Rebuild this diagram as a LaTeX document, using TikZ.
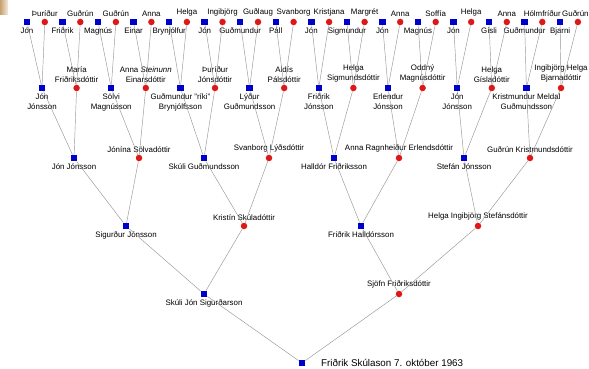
\documentclass[tikz,border=0pt]{standalone}
\usepackage{fontspec}
\setmainfont{Liberation Sans}
\definecolor{sqblue}{RGB}{0,0,204}
\definecolor{dotred}{RGB}{222,24,24}
\definecolor{edgegray}{RGB}{150,150,150}
\definecolor{cornertan}{RGB}{200,160,110}
\begin{document}
\begin{tikzpicture}[x=1pt,y=-1pt,
  man/.style={rectangle, fill=sqblue, minimum size=6.5pt, inner sep=0pt},
  woman/.style={circle, fill=dotred, minimum size=6.5pt, inner sep=0pt},
  link/.style={draw=edgegray, line width=0.45pt},
  every label/.style={font=\fontsize{7.9}{9.8}\selectfont, align=center, inner sep=0.5pt},
  label distance=1.5pt]
\useasboundingbox (0,0) rectangle (589,369);
\shade[left color=cornertan, right color=cornertan!20] (0,0) rectangle (8,15);
% great-great-grandparents
  \node[man, label=below:Jón] (a1) at (27,22) {};
  \node[woman, label=above:Þuríður] (a2) at (44.8,22) {};
  \node[man, label=below:Friðrik] (a3) at (62.5,22) {};
  \node[woman, label=above:Guðrún] (a4) at (80.3,22) {};
  \node[man, label=below:Magnús] (a5) at (98.1,22) {};
  \node[woman, label=above:Guðrún] (a6) at (115.9,22) {};
  \node[man, label=below:Einar] (a7) at (133.6,22) {};
  \node[woman, label=above:Anna] (a8) at (151.4,22) {};
  \node[man, label=below:Brynjólfur] (a9) at (169.2,22) {};
  \node[woman, label=above:Helga] (a10) at (186.9,22) {};
  \node[man, label=below:Jón] (a11) at (204.7,22) {};
  \node[woman, label=above:Ingibjörg] (a12) at (222.5,22) {};
  \node[man, label=below:Guðmundur] (a13) at (240.2,22) {};
  \node[woman, label=above:Guðlaug] (a14) at (258,22) {};
  \node[man, label=below:Páll] (a15) at (275.8,22) {};
  \node[woman, label=above:Svanborg] (a16) at (293.6,22) {};
  \node[man, label=below:Jón] (a17) at (311.3,22) {};
  \node[woman, label=above:Kristjana] (a18) at (329.1,22) {};
  \node[man, label=below:Sigmundur] (a19) at (346.9,22) {};
  \node[woman, label=above:Margrét] (a20) at (364.6,22) {};
  \node[man, label=below:Jón] (a21) at (382.4,22) {};
  \node[woman, label=above:Anna] (a22) at (400.2,22) {};
  \node[man, label=below:Magnús] (a23) at (417.9,22) {};
  \node[woman, label=above:Soffía] (a24) at (435.7,22) {};
  \node[man, label=below:Jón] (a25) at (453.5,22) {};
  \node[woman, label=above:Helga] (a26) at (471.2,22) {};
  \node[man, label=below:Gísli] (a27) at (489,22) {};
  \node[woman, label=above:Anna] (a28) at (506.8,22) {};
  \node[man, label=below:Guðmundur] (a29) at (524.6,22) {};
  \node[woman, label=above:Hólmfríður] (a30) at (542.3,22) {};
  \node[man, label=below:Bjarni] (a31) at (560.1,22) {};
  \node[woman, label={[xshift=-2.5pt]above:Guðrún}] (a32) at (577.9,22) {};
% great-grandparents
  \node[man, label=below:{Jón\\Jónsson}] (b1) at (42,88) {};
  \node[woman, label=above:{María\\Friðriksdóttir}] (b2) at (76.6,88) {};
  \node[man, label=below:{Sölvi\\Magnússon}] (b3) at (111.2,88) {};
  \node[woman, label=above:{Anna \textit{Steinunn}\\Einarsdóttir}] (b4) at (145.8,88) {};
  \node[man, label=below:{Guðmundur "ríki"\\Brynjólfsson}] (b5) at (180.4,88) {};
  \node[woman, label=above:{Þuríður\\Jónsdóttir}] (b6) at (215,88) {};
  \node[man, label=below:{Lýður\\Guðmundsson}] (b7) at (249.6,88) {};
  \node[woman, label=above:{Aldís\\Pálsdóttir}] (b8) at (284.2,88) {};
  \node[man, label=below:{Friðrik\\Jónsson}] (b9) at (318.8,88) {};
  \node[woman, label=above:{Helga\\Sigmundsdóttir}] (b10) at (353.4,88) {};
  \node[man, label=below:{Erlendur\\Jónsson}] (b11) at (388,88) {};
  \node[woman, label=above:{Oddný\\Magnúsdóttir}] (b12) at (422.6,88) {};
  \node[man, label=below:{Jón\\Jónsson}] (b13) at (457.2,88) {};
  \node[woman, label=above:{Helga\\Gísladóttir}] (b14) at (491.8,88) {};
  \node[man, label=below:{Kristmundur Meldal\\Guðmundsson}] (b15) at (526.4,88) {};
  \node[woman, label=above:{Ingibjörg Helga\\Bjarnadóttir}] (b16) at (561,88) {};
% grandparents' parents
  \node[man, label=below:Jón Jónsson] (c1) at (74,158) {};
  \node[woman, label=above:Jónína Sölvadóttir] (c2) at (139,158) {};
  \node[man, label=below:Skúli Guðmundsson] (c3) at (204,158) {};
  \node[woman, label=above:Svanborg Lýðsdóttir] (c4) at (269,158) {};
  \node[man, label=below:Halldór Friðriksson] (c5) at (334,158) {};
  \node[woman, label=above:Anna Ragnheiður Erlendsdóttir] (c6) at (399,158) {};
  \node[man, label=below:Stefán Jónsson] (c7) at (464,158) {};
  \node[woman, label=above:Guðrún Kristmundsdóttir] (c8) at (530,158) {};
% grandparents
  \node[man, label=below:Sigurður Jónsson] (d1) at (126,226) {};
  \node[woman, label=above:Kristín Skúladóttir] (d2) at (244,226) {};
  \node[man, label=below:Friðrik Halldórsson] (d3) at (361,226) {};
  \node[woman, label=above:Helga Ingibjörg Stefánsdóttir] (d4) at (478,226) {};
% parents
  \node[man, label=below:Skúli Jón Sigurðarson] (e1) at (204,294) {};
  \node[woman, label=above:Sjöfn Friðriksdóttir] (e2) at (399,294) {};
  \node[man, label={[font=\fontsize{9.8}{12}\selectfont, label distance=15pt]right:Friðrik Skúlason 7. október 1963}] (root) at (302,363) {};
% links
  \draw[link] (b1)--(a1) (b1)--(a2);
  \draw[link] (b2)--(a3) (b2)--(a4);
  \draw[link] (b3)--(a5) (b3)--(a6);
  \draw[link] (b4)--(a7) (b4)--(a8);
  \draw[link] (b5)--(a9) (b5)--(a10);
  \draw[link] (b6)--(a11) (b6)--(a12);
  \draw[link] (b7)--(a13) (b7)--(a14);
  \draw[link] (b8)--(a15) (b8)--(a16);
  \draw[link] (b9)--(a17) (b9)--(a18);
  \draw[link] (b10)--(a19) (b10)--(a20);
  \draw[link] (b11)--(a21) (b11)--(a22);
  \draw[link] (b12)--(a23) (b12)--(a24);
  \draw[link] (b13)--(a25) (b13)--(a26);
  \draw[link] (b14)--(a27) (b14)--(a28);
  \draw[link] (b15)--(a29) (b15)--(a30);
  \draw[link] (b16)--(a31) (b16)--(a32);
  \draw[link] (c1)--(b1) (c1)--(b2);
  \draw[link] (c2)--(b3) (c2)--(b4);
  \draw[link] (c3)--(b5) (c3)--(b6);
  \draw[link] (c4)--(b7) (c4)--(b8);
  \draw[link] (c5)--(b9) (c5)--(b10);
  \draw[link] (c6)--(b11) (c6)--(b12);
  \draw[link] (c7)--(b13) (c7)--(b14);
  \draw[link] (c8)--(b15) (c8)--(b16);
  \draw[link] (d1)--(c1) (d1)--(c2);
  \draw[link] (d2)--(c3) (d2)--(c4);
  \draw[link] (d3)--(c5) (d3)--(c6);
  \draw[link] (d4)--(c7) (d4)--(c8);
  \draw[link] (e1)--(d1) (e1)--(d2);
  \draw[link] (e2)--(d3) (e2)--(d4);
  \draw[link] (root)--(e1) (root)--(e2);
\end{tikzpicture}
\end{document}
